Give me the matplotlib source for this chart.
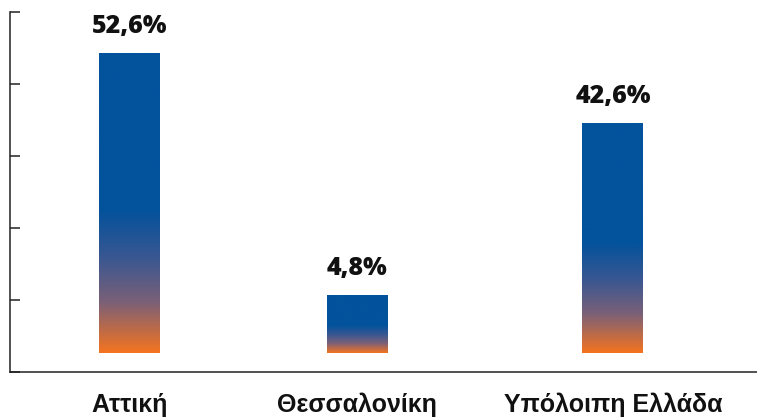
import matplotlib
matplotlib.use("Agg")
import matplotlib.pyplot as plt
import numpy as np
from matplotlib.colors import LinearSegmentedColormap

# ---- data ----
categories = ["Αττική", "Θεσσαλονίκη", "Υπόλοιπη Ελλάδα"]
shares = [52.6, 4.8, 42.6]            # printed values (%)
bar_tops = [53.2, 12.8, 41.5]          # drawn bar heights (axis units)
bar_base = 3.2
y_ticks = [0, 12, 24, 36, 48, 60]

# ---- layout ----
W, H, DPI = 757, 417, 100
x_pos = [0.0, 1.0, 2.125]
bar_w = 0.268

fig = plt.figure(figsize=(W / DPI, H / DPI), dpi=DPI)
ax = fig.add_axes([10 / W, (H - 372) / H, (W - 10) / W, 360 / H])

cmap = LinearSegmentedColormap.from_list(
    "g",
    [(0.0, "#02529C"), (0.52, "#02529C"), (0.68, "#385792"),
     (0.83, "#7A6078"), (1.0, "#F47420")])
grad = np.linspace(0, 1, 256).reshape(-1, 1)

for x, top, val in zip(x_pos, bar_tops, shares):
    bars = ax.bar(x, top - bar_base, bottom=bar_base, width=bar_w,
                  color="none", edgecolor="none")
    patch = bars[0]
    im = ax.imshow(grad, cmap=cmap, aspect="auto",
                   extent=[x - bar_w / 2, x + bar_w / 2, bar_base, top],
                   origin="upper", interpolation="bilinear", zorder=2)
    im.set_clip_path(patch)
    ax.annotate(f"{val:.1f}%".replace(".", ","), (x, top),
                xytext=(0, 20), textcoords="offset pixels",
                ha="center", va="baseline", fontsize=18,
                fontweight="heavy", family="Open Sans", color="#111111")

ax.set_xlim(-0.525, 2.758)
ax.set_ylim(0, 60)
ax.set_yticks(y_ticks)
ax.set_yticklabels([])
ax.set_xticks(x_pos)
ax.set_xticklabels(categories, fontsize=18, fontweight="bold",
                   family="Liberation Sans", color="#111111")
ax.tick_params(axis="x", length=0, pad=15)
ax.tick_params(axis="y", direction="in", length=7, width=1.1, color="#222222")
for s in ["top", "right"]:
    ax.spines[s].set_visible(False)
for s in ["left", "bottom"]:
    ax.spines[s].set_color("#222222")
    ax.spines[s].set_linewidth(1.1)

fig.savefig("out.png", dpi=DPI)
